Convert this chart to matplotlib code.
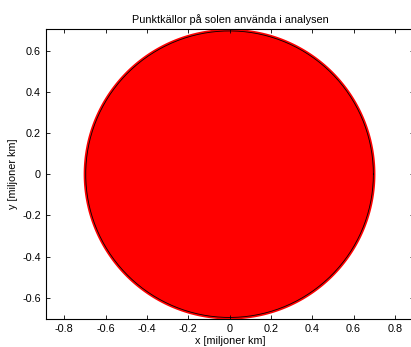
import numpy as np
import matplotlib
matplotlib.use("Agg")
import matplotlib.pyplot as plt

plt.rcParams['font.family'] = ['Liberation Sans', 'DejaVu Sans']

title = "Punktkällor på solen använda i analysen"
xlabel = "x [miljoner km]"
ylabel = "y [miljoner km]"
sun_radius = [0.696]          # solradie, miljoner km
point_extent = [0.706]        # yttersta punktkällornas utbredning
xticks = [-0.8, -0.6, -0.4, -0.2, 0, 0.2, 0.4, 0.6, 0.8]
yticks = [-0.6, -0.4, -0.2, 0, 0.2, 0.4, 0.6]
xlim = [-0.886, 0.892]
ylim = [-0.703, 0.703]

fig = plt.figure(figsize=(4.11, 3.47), dpi=100)
ax = fig.add_axes([0.113, 0.081, 0.894, 0.834])

t = np.linspace(0, 2 * np.pi, 400)
ax.fill(point_extent[0] * np.cos(t), point_extent[0] * np.sin(t), color='#ff0000', lw=0, zorder=1)
ax.plot(sun_radius[0] * np.cos(t), sun_radius[0] * np.sin(t), color='black', lw=0.6, zorder=2)

ax.set_xlim(xlim)
ax.set_ylim(ylim)
ax.set_xticks(xticks)
ax.set_yticks(yticks)
ax.set_xticklabels([f"{v:g}" for v in xticks])
ax.set_yticklabels([f"{v:g}" for v in yticks])
ax.tick_params(direction='in', top=True, right=True, labelsize=7.8, length=3, width=0.6, pad=4)
for s in ax.spines.values():
    s.set_linewidth(0.8)
ax.set_title(title, fontsize=7.8, pad=5)
ax.set_xlabel(xlabel, fontsize=7.8, labelpad=1)
ax.set_ylabel(ylabel, fontsize=7.8, labelpad=3)

fig.savefig("out.png", dpi=100)
